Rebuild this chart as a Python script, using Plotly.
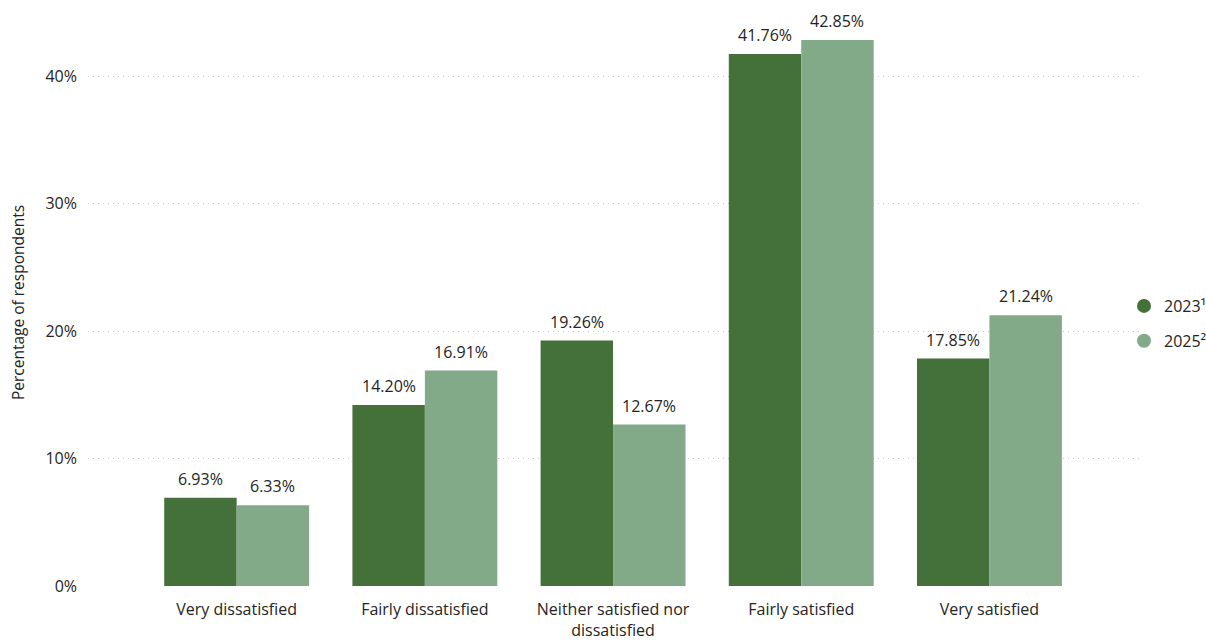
import plotly.graph_objects as go

categories = ["Very dissatisfied", "Fairly dissatisfied", "Neither satisfied nor<br>dissatisfied",
              "Fairly satisfied", "Very satisfied"]
values_2023 = [6.93, 14.20, 19.26, 41.76, 17.85]
values_2025 = [6.33, 16.91, 12.67, 42.85, 21.24]
series_names = ["2023¹", "2025²"]
colors = ["#44703A", "#82AA88"]

FONT = "Open Sans, Noto Sans, DejaVu Sans, sans-serif"
TXT = "#252423"
BARGAP = 0.23
L, R, T, B = 88, 66, 19, 56

fig = go.Figure()
series = [values_2023, values_2025]
for k, (name, vals, col) in enumerate(zip(series_names, series, colors)):
    xs = list(range(len(categories)))
    fig.add_trace(go.Bar(
        x=xs, y=vals, name=name,
        marker=dict(color=col, line=dict(width=0)),
        showlegend=False, hoverinfo="y",
    ))
    fig.add_trace(go.Scatter(
        x=[None], y=[None], mode="markers", name=name, legendgroup=name,
        marker=dict(color=col, size=14, symbol="circle"),
    ))
    # value labels above bars
    bw = (1 - BARGAP) / len(series)
    for i, v in enumerate(vals):
        fig.add_annotation(
            x=i + (k - (len(series) - 1) / 2) * bw, y=v, xref="x", yref="y",
            text=f"{v:.2f}%", showarrow=False, yanchor="bottom", yshift=6,
            font=dict(size=16, color=TXT, family=FONT),
        )

fig.update_layout(
    width=1206, height=642,
    margin=dict(l=L, r=R, t=T, b=B, autoexpand=False),
    plot_bgcolor="white", paper_bgcolor="white",
    barmode="group", bargap=BARGAP, bargroupgap=0,
    font=dict(family=FONT, color=TXT),
    legend=dict(x=(1124 - L) / (1206 - L - R), xanchor="left", y=0.463, yanchor="middle",
                font=dict(size=16, color=TXT), itemwidth=30,
                tracegroupgap=11, bgcolor="rgba(0,0,0,0)"),
    xaxis=dict(
        tickmode="array", tickvals=list(range(len(categories))), ticktext=categories,
        range=[-0.79, 4.80], showgrid=False, zeroline=False, showline=False,
        tickfont=dict(size=16, color=TXT), ticks="", ticklabelstandoff=12,
    ),
    yaxis=dict(
        range=[0, 44.5], tickvals=[0, 10, 20, 30, 40],
        ticktext=["0%", "10%", "20%", "30%", "40%"],
        showgrid=True, gridcolor="#c8c8c8", griddash="1px,4px", gridwidth=1,
        zeroline=False, showline=False,
        tickfont=dict(size=16, color=TXT), ticklabelstandoff=10,
        title=dict(text="Percentage of respondents", font=dict(size=15.5, color=TXT),
                   standoff=17),
    ),
)

fig.write_html("out.html")
